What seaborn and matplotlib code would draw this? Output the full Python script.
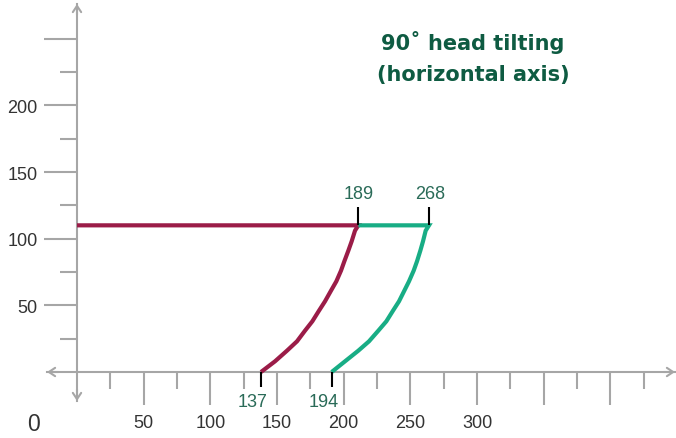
import matplotlib
matplotlib.use('Agg')
from matplotlib import pyplot as plt
import pandas as pd
import seaborn as sns

# * data (horizontal run, then the curve down to the x axis)
curve_y = [110, 110, 106, 98, 91, 83, 76, 68, 61, 53, 46, 38, 31, 23, 16, 8, 0]
red_x = [0, 211, 208.5, 206, 203.5, 200.5, 198, 194.5, 190.5, 186, 181.5, 176.5,
         171, 165, 157.5, 148.5, 138]
green_x = [211, 264, 261.5, 259.5, 257.5, 255, 252.5, 249, 245.5, 241.5, 237, 232,
           226, 219, 211, 201, 191]
start_labels = ['137', '194']
end_labels = ['189', '268']

x_major = [50, 100, 150, 200, 250, 300, 350, 400]
x_major_labels = ['50', '100', '150', '200', '250', '300', '', '']
x_minor = [25, 75, 125, 175, 225, 275, 325, 375, 425]
y_major = [50, 100, 150, 200, 250]
y_major_labels = ['50', '100', '150', '200', '']
y_minor = [25, 75, 125, 175, 225]

title_lines = ['90˚ head tilting', '(horizontal axis)']

# * colours
gray = '#a6a6a6'
red = '#9b1c48'
green = '#18ad85'
label_green = '#2a6b58'
title_green = '#0e5b42'

sns.set_style('white')
plt.rcParams['font.family'] = ['Liberation Sans', 'DejaVu Sans']

df = pd.concat([
    pd.DataFrame({'x': red_x, 'y': curve_y, 'series': 'red'}),
    pd.DataFrame({'x': green_x, 'y': curve_y, 'series': 'green'}),
], ignore_index=True)

W, H = 676, 439
fig = plt.figure(figsize=(W / 100, H / 100), dpi=100)
ax = fig.add_axes([47 / W, 37 / H, 628 / W, 397 / H])

sns.lineplot(data=df, x='x', y='y', hue='series', sort=False, estimator=None,
             palette={'red': red, 'green': green}, legend=False, lw=3,
             solid_joinstyle='miter', solid_capstyle='butt', ax=ax, zorder=3)

ax.set_xlim(-22.5, 448.5)
ax.set_ylim(-21.75, 276)
ax.set_xlabel('')
ax.set_ylabel('')

# axes through the origin
for side in ['top', 'right']:
    ax.spines[side].set_visible(False)
for side in ['left', 'bottom']:
    ax.spines[side].set_position(('data', 0))
    ax.spines[side].set_color(gray)
    ax.spines[side].set_linewidth(1.5)

# arrow heads on both ends of both axes
arrow = dict(arrowstyle='->,head_length=0.45,head_width=0.3', lw=1.5, color=gray,
             shrinkA=0, shrinkB=0)
ax.annotate('', xy=(448.5, 0), xytext=(440, 0), arrowprops=arrow, annotation_clip=False)
ax.annotate('', xy=(-22.5, 0), xytext=(-14, 0), arrowprops=arrow, annotation_clip=False)
ax.annotate('', xy=(0, 276), xytext=(0, 268), arrowprops=arrow, annotation_clip=False)
ax.annotate('', xy=(0, -21.75), xytext=(0, -13), arrowprops=arrow, annotation_clip=False)

ax.set_xticks(x_major)
ax.set_xticklabels(x_major_labels)
ax.set_xticks(x_minor, minor=True)
ax.set_yticks(y_major)
ax.set_yticklabels(y_major_labels)
ax.set_yticks(y_minor, minor=True)
ax.tick_params(which='both', bottom=True, left=True, top=False, right=False)
ax.tick_params(which='major', length=23.5, width=1.5, color=gray, labelsize=13,
               labelcolor='#333333', direction='out')
ax.tick_params(which='minor', length=12, width=1.5, color=gray, direction='out')
ax.tick_params(axis='x', which='major', pad=7)
ax.tick_params(axis='y', which='major', pad=5)

# black markers + labels at curve ends
starts = [(red_x[-1], curve_y[-1]), (green_x[-1], curve_y[-1])]
ends = [(red_x[1], curve_y[1]), (green_x[1], curve_y[1])]
for (sx, sy), lab in zip(starts, start_labels):
    ax.vlines(sx, sy - 11, sy, colors='black', lw=1.5, zorder=4)
    ax.annotate(lab, (sx, sy), xytext=(-5.8, -21.6), textcoords='offset points',
                ha='center', va='center', fontsize=13, color=label_green)
for (ex, ey), lab in zip(ends, end_labels):
    ax.vlines(ex, ey, ey + 14, colors='black', lw=1.5, zorder=4)
    ax.annotate(lab, (ex, ey), xytext=(0.5, 23), textcoords='offset points',
                ha='center', va='center', fontsize=13, color=label_green)

# lonely origin label
fig.text(33 / W, 1 - 425 / H, '0', ha='center', va='center', fontsize=16.5,
         color='#333333')

# title
for i, line in enumerate(title_lines):
    fig.text(473 / W, 1 - (42 + 33 * i) / H, line, ha='center', va='center',
             fontsize=15, fontweight='bold', color=title_green, family='DejaVu Sans')

fig.savefig('out.png', dpi=100)
